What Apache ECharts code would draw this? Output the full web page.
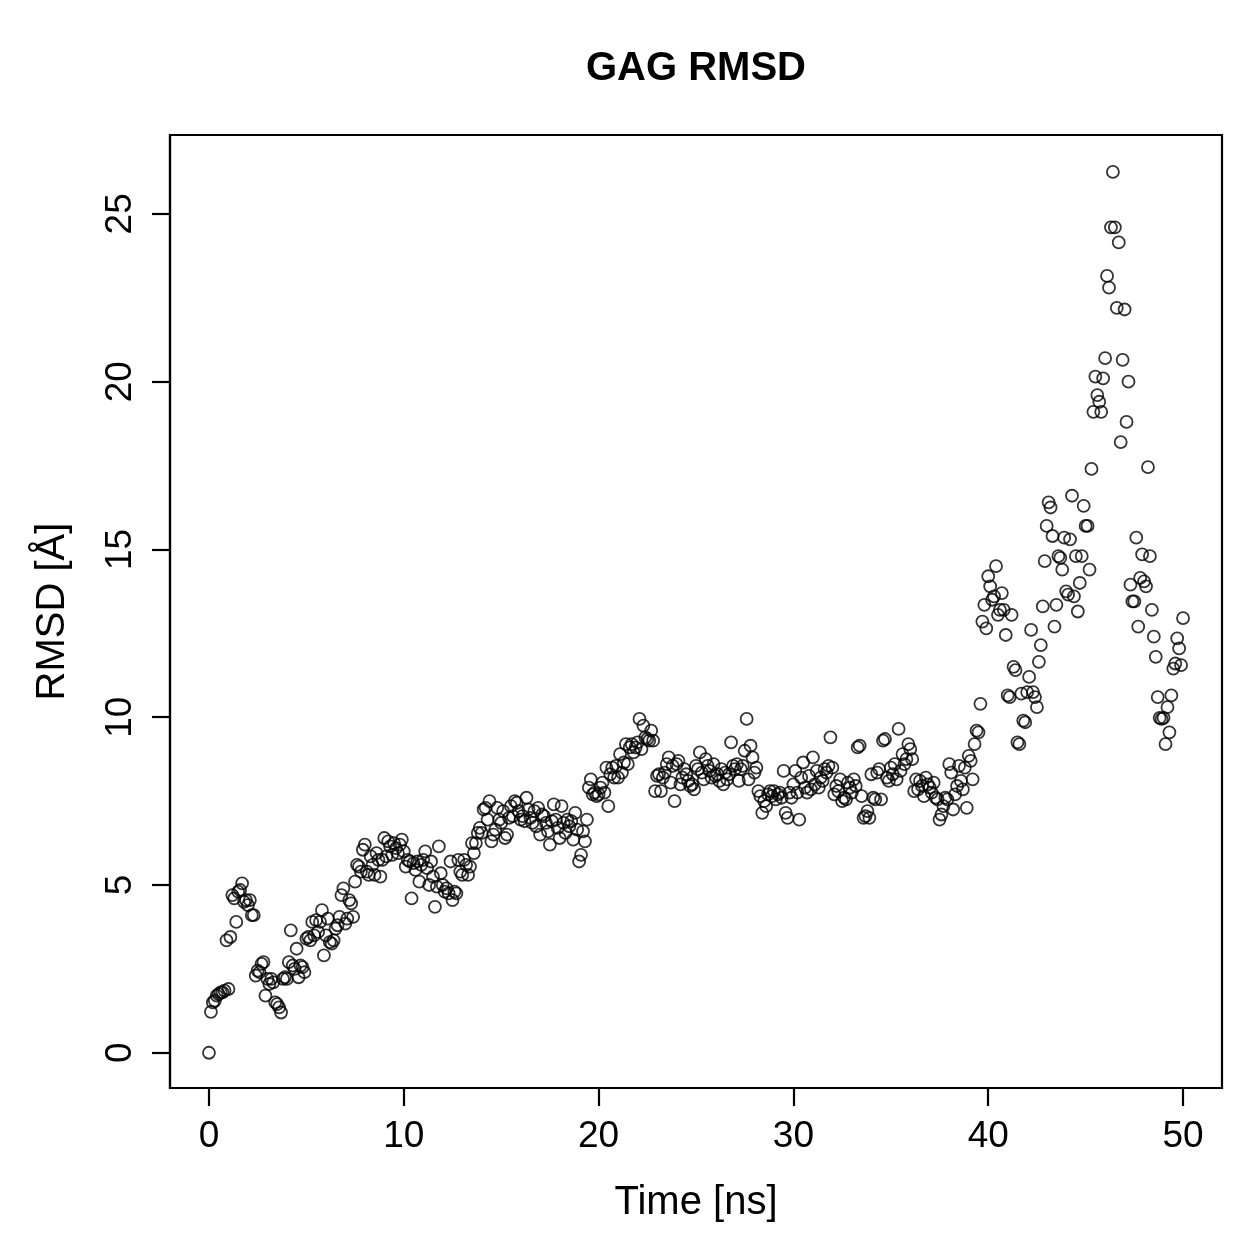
<!DOCTYPE html>
<html>
<head>
<meta charset="utf-8">
<title>GAG RMSD</title>
<script src="https://cdn.jsdelivr.net/npm/echarts@6/dist/echarts.min.js"></script>
<style>
  html, body { margin: 0; padding: 0; background: #fff; }
  #chart { width: 1259px; height: 1259px; }
</style>
</head>
<body>
<div id="chart"></div>
<script>
// RMSD [Å], one frame every 0.1 ns
const rmsd00to10 = [
  0.00, 1.22, 1.50, 1.55, 1.70, 1.75, 1.80, 1.80, 1.85, 3.35,
  1.90, 3.45, 4.70, 4.60, 3.90, 4.80, 4.85, 5.05, 4.50, 4.55,
  4.40, 4.55, 4.10, 4.10, 2.30, 2.45, 2.40, 2.65, 2.70, 1.70,
  2.20, 2.05, 2.20, 2.10, 1.50, 1.45, 1.35, 1.20, 2.20, 2.25,
  2.20, 2.70, 3.65, 2.60, 2.50, 3.10, 2.25, 2.60, 2.55, 2.40,
  3.40, 3.45, 3.35, 3.90, 3.50, 3.95, 3.60, 3.90, 4.25, 2.90,
  3.50, 4.00, 3.30, 3.25, 3.35, 3.70, 3.80, 4.05, 4.70, 4.90,
  3.85, 4.00, 4.55, 4.45, 4.05, 5.10, 5.60, 5.55, 5.40, 6.05,
  6.20, 5.40, 5.30, 5.85, 5.60, 5.30, 5.95, 5.75, 5.25, 5.75,
  6.40, 5.85, 6.30, 6.15, 5.90, 6.25, 6.10, 5.95, 6.20, 6.35
];
const rmsd10to20 = [
  6.00, 5.55, 5.75, 5.70, 4.60, 5.65, 5.45, 5.70, 5.10, 5.60,
  5.75, 6.00, 5.50, 5.00, 5.70, 5.25, 4.35, 4.95, 6.15, 5.35,
  5.00, 4.80, 4.90, 4.75, 5.70, 4.55, 4.80, 4.75, 5.75, 5.40,
  5.30, 5.75, 5.60, 5.30, 5.55, 6.25, 5.95, 6.25, 6.55, 6.70,
  6.55, 7.25, 7.30, 6.95, 7.50, 6.30, 6.50, 6.65, 7.30, 6.95,
  6.85, 7.20, 6.40, 6.50, 7.00, 7.35, 7.05, 7.50, 7.45, 7.20,
  6.95, 7.05, 6.90, 7.60, 7.25, 7.00, 6.85, 7.20, 6.75, 7.30,
  6.50, 7.10, 7.05, 6.85, 6.60, 6.20, 6.90, 7.40, 6.95, 6.70,
  6.40, 7.35, 6.85, 6.55, 6.95, 6.75, 6.90, 6.35, 7.15, 6.65,
  5.70, 5.90, 6.60, 6.30, 6.95, 7.90, 8.15, 7.70, 7.75, 7.65
];
const rmsd20to30 = [
  7.70, 7.90, 8.05, 7.75, 8.50, 7.35, 8.30, 8.50, 8.20, 8.55,
  8.20, 8.90, 8.35, 8.65, 9.20, 8.60, 9.10, 9.20, 8.95, 9.10,
  9.25, 9.95, 9.05, 9.75, 9.40, 9.35, 9.30, 9.60, 9.30, 7.80,
  8.25, 8.30, 7.80, 8.20, 8.35, 8.60, 8.80, 8.05, 8.55, 7.50,
  8.60, 8.70, 8.00, 8.20, 8.45, 8.30, 8.10, 7.95, 8.00, 7.85,
  8.55, 8.45, 8.95, 8.35, 8.15, 8.75, 8.55, 8.40, 8.20, 8.60,
  8.25, 8.30, 8.10, 8.45, 8.00, 8.35, 8.15, 8.30, 9.25, 8.55,
  8.45, 8.60, 8.10, 8.45, 8.55, 9.00, 9.95, 8.15, 9.15, 8.80,
  8.35, 8.50, 7.80, 7.65, 7.15, 7.50, 7.35, 7.70, 7.80, 7.65,
  7.80, 7.55, 7.70, 7.75, 7.60, 8.40, 7.15, 7.00, 7.75, 7.60
];
const rmsd30to40 = [
  8.00, 8.40, 7.75, 6.95, 8.20, 8.65, 7.90, 7.75, 8.25, 7.85,
  8.80, 8.00, 8.40, 7.90, 8.20, 8.10, 8.45, 8.35, 8.55, 9.40,
  8.50, 7.70, 7.95, 7.80, 8.15, 7.50, 7.60, 7.55, 8.05, 7.90,
  7.75, 8.15, 7.95, 9.10, 9.15, 7.65, 7.00, 7.05, 7.20, 7.00,
  8.30, 7.60, 7.55, 8.35, 8.45, 7.55, 9.30, 9.35, 8.20, 8.10,
  8.50, 8.30, 8.60, 8.15, 9.65, 8.40, 8.90, 8.60, 8.75, 9.20,
  9.05, 8.75, 7.80, 8.15, 7.85, 8.10, 7.95, 7.65, 8.20, 8.00,
  7.90, 7.75, 8.05, 7.60, 7.55, 6.95, 7.10, 7.35, 7.60, 7.55,
  8.60, 8.35, 7.25, 7.70, 7.95, 8.55, 8.10, 7.85, 8.50, 7.30,
  8.85, 8.70, 8.15, 9.20, 9.60, 9.55, 10.40, 12.85, 13.35, 12.65
];
const rmsd40to50 = [
  14.20, 13.90, 13.50, 13.60, 14.50, 13.05, 13.20, 13.70, 13.20, 12.45,
  10.65, 10.60, 13.05, 11.50, 11.40, 9.25, 9.20, 10.70, 9.90, 9.85,
  10.75, 11.20, 12.60, 10.75, 10.60, 10.30, 11.65, 12.15, 13.30, 14.65,
  15.70, 16.40, 16.25, 15.40, 12.70, 13.35, 14.80, 14.75, 14.40, 15.35,
  13.75, 13.65, 15.30, 16.60, 13.60, 14.80, 13.15, 14.00, 14.80, 16.30,
  15.70, 15.70, 14.40, 17.40, 19.10, 20.15, 19.60, 19.40, 19.10, 20.10,
  20.70, 23.15, 22.80, 24.60, 26.25, 24.60, 22.20, 24.15, 18.20, 20.65,
  22.15, 18.80, 20.00, 13.95, 13.45, 13.45, 15.35, 12.70, 14.15, 14.85,
  14.05, 13.90, 17.45, 14.80, 13.20, 12.40, 11.80, 10.60, 9.98, 9.95,
  9.98, 9.20, 10.30, 9.55, 10.65, 11.45, 11.60, 12.35, 12.05, 11.55,
  12.95
];

const frameStepNs = 0.1;
const xTicks = [0, 10, 20, 30, 40, 50];
const yTicks = [0, 5, 10, 15, 20, 25];

const rmsd = [].concat(rmsd00to10, rmsd10to20, rmsd20to30, rmsd30to40, rmsd40to50);
const points = rmsd.map(function (v, i) {
  return [Math.round(i * frameStepNs * 10) / 10, v];
});

const font = "'Liberation Sans', Arial, Helvetica, sans-serif";

let chart = echarts.init(document.getElementById('chart'), null, {renderer: 'canvas'});
chart.setOption({
  animation: false,
  backgroundColor: '#ffffff',
  graphic: [{
    type: 'text',
    x: 696,
    y: 69,
    style: {
      text: 'GAG RMSD',
      font: 'bold 40px ' + font,
      fill: '#000',
      textAlign: 'center',
      textVerticalAlign: 'middle'
    }
  }],
  grid: {
    left: 170,
    right: 37,
    top: 135,
    bottom: 171,
    show: true,
    borderColor: '#000',
    borderWidth: 2.2,
    backgroundColor: 'transparent'
  },
  xAxis: {
    type: 'value',
    min: -2,
    max: 52,
    name: 'Time [ns]',
    nameLocation: 'middle',
    nameGap: 95,
    nameTextStyle: {fontFamily: font, fontSize: 40, color: '#000'},
    axisLine: {show: true, onZero: false, lineStyle: {color: '#000', width: 2.2}},
    axisTick: {show: true, length: 18, customValues: xTicks, lineStyle: {color: '#000', width: 2.2}},
    axisLabel: {customValues: xTicks, margin: 30, fontFamily: font, fontSize: 37, color: '#000'},
    splitLine: {show: false}
  },
  yAxis: {
    type: 'value',
    min: -1.05,
    max: 27.35,
    name: 'RMSD [Å]',
    nameLocation: 'middle',
    nameGap: 97,
    nameTextStyle: {fontFamily: font, fontSize: 40, color: '#000'},
    axisLine: {show: true, onZero: false, lineStyle: {color: '#000', width: 2.2}},
    axisTick: {show: true, length: 18, customValues: yTicks, lineStyle: {color: '#000', width: 2.2}},
    axisLabel: {customValues: yTicks, rotate: 90, margin: 31, fontFamily: font, fontSize: 37, color: '#000'},
    splitLine: {show: false}
  },
  series: [{
    type: 'scatter',
    data: points,
    symbol: 'circle',
    symbolSize: 12,
    itemStyle: {color: 'rgba(0,0,0,0)', borderColor: '#000', borderWidth: 1.8},
    emphasis: {disabled: true}
  }]
});
</script>
</body>
</html>
